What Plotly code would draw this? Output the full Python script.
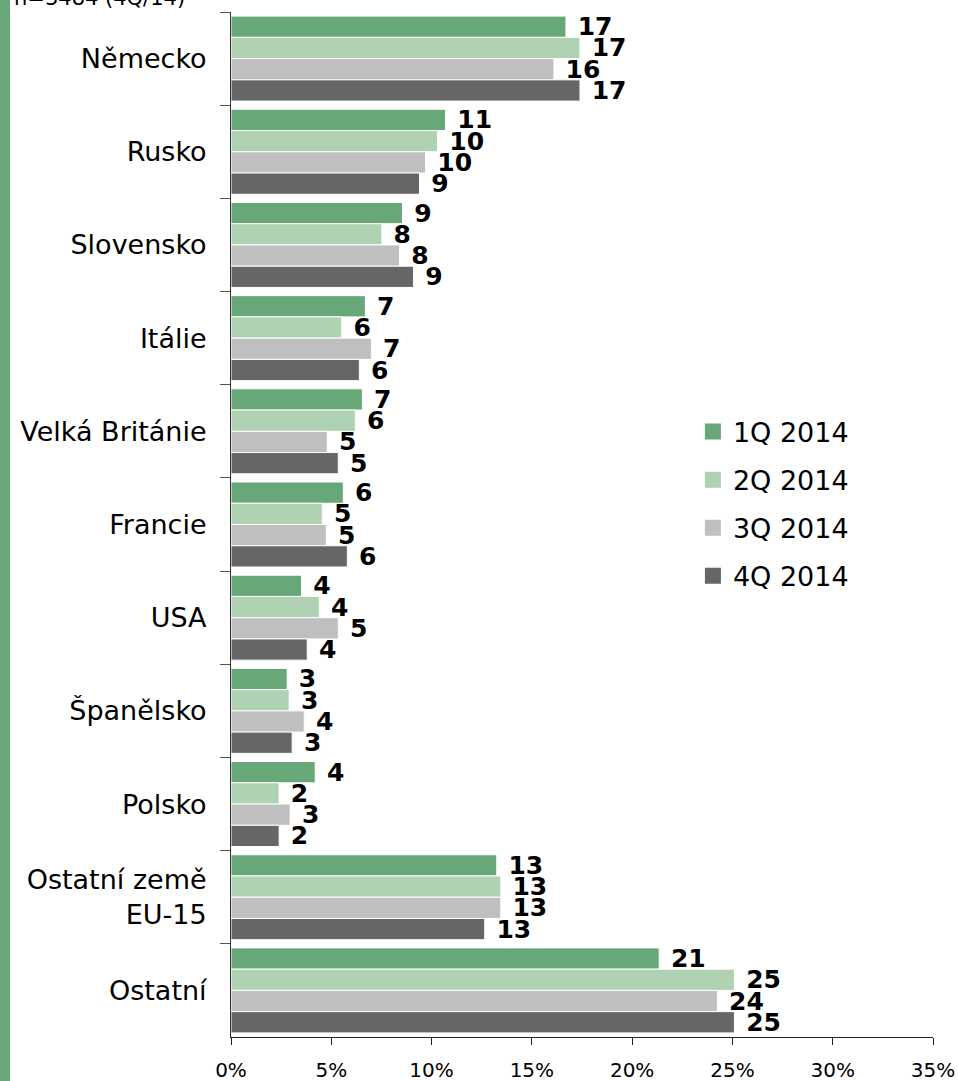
import plotly.graph_objects as go

categories = ["Německo", "Rusko", "Slovensko", "Itálie", "Velká Británie", "Francie",
              "USA", "Španělsko", "Polsko", "Ostatní země<br>EU-15", "Ostatní"]
series_names = ["1Q 2014", "2Q 2014", "3Q 2014", "4Q 2014"]
q1 = [16.7, 10.7, 8.55, 6.7, 6.55, 5.6, 3.52, 2.8, 4.2, 13.25, 21.35]
q2 = [17.4, 10.3, 7.52, 5.52, 6.2, 4.55, 4.4, 2.9, 2.4, 13.45, 25.1]
q3 = [16.1, 9.7, 8.4, 7.0, 4.8, 4.75, 5.35, 3.65, 2.95, 13.45, 24.25]
q4 = [17.4, 9.4, 9.1, 6.4, 5.35, 5.8, 3.8, 3.05, 2.4, 12.65, 25.1]
colors = ["#68a778", "#aed2b2", "#bfbfbf", "#666666"]
note = "n=3484 (4Q/14)"

FONT = "DejaVu Sans"
L, T, R, B = 231, 12, 25, 44
PW, PH = 958 - L - R, 1081 - T - B

fig = go.Figure()
for name, vals, col in zip(series_names, [q1, q2, q3, q4], colors):
    fig.add_trace(go.Bar(
        y=categories, x=vals, orientation="h", name=name,
        marker=dict(color=col, line=dict(color="white", width=1)),
        texttemplate="\u00a0%{x:.0f}", textposition="outside",
        textfont=dict(family=FONT, size=25, color="black", weight="bold"),
        constraintext="none", cliponaxis=False, showlegend=False,
        hoverinfo="x+y",
    ))
for i, (name, col) in enumerate(zip(series_names, colors)):
    fig.add_trace(go.Scatter(
        x=[None], y=[None], mode="markers", name=name,
        marker=dict(symbol="square", size=16, color=col),
        legendgroup=f"g{i}", showlegend=True,
    ))

fig.update_layout(
    width=958, height=1081,
    margin=dict(l=L, r=R, t=T, b=B, autoexpand=False),
    paper_bgcolor="white", plot_bgcolor="white",
    barmode="group", bargap=0.088, bargroupgap=0,
    font=dict(family=FONT, size=27, color="black"),
    xaxis=dict(range=[0, 35], dtick=5, ticksuffix="%", showgrid=False, zeroline=False,
               showline=True, linecolor="#222", linewidth=1,
               ticks="outside", ticklen=7, tickcolor="#222", ticklabelstandoff=8,
               tickfont=dict(family=FONT, size=20, color="black")),
    yaxis=dict(autorange="reversed", type="category", showgrid=False, zeroline=False,
               showline=True, linecolor="#333", linewidth=1,
               ticks="outside", ticklen=10, tickcolor="#555", tickson="boundaries",
               ticklabelstandoff=18,
               tickfont=dict(family=FONT, size=27, color="black")),
    legend=dict(x=0.658, xanchor="left", y=0.52, yanchor="middle",
                traceorder="grouped", tracegroupgap=10,
                font=dict(family=FONT, size=27, color="black"),
                bgcolor="rgba(0,0,0,0)"),
    shapes=[dict(type="rect", xref="paper", yref="paper",
                 x0=-L / PW, x1=(10 - L) / PW,
                 y0=-B / PH, y1=1 + T / PH,
                 fillcolor="#68a778", line=dict(width=0), layer="below")],
    annotations=[dict(text=note, xref="paper", yref="paper", x=(12 - L) / PW, y=1,
                      xanchor="left", yanchor="bottom", yshift=0, showarrow=False,
                      font=dict(family=FONT, size=21, color="black"))],
)
fig.write_html("out.html", config={"displayModeBar": False},
               post_script="document.body.style.margin='0px';document.body.style.padding='0px';")
